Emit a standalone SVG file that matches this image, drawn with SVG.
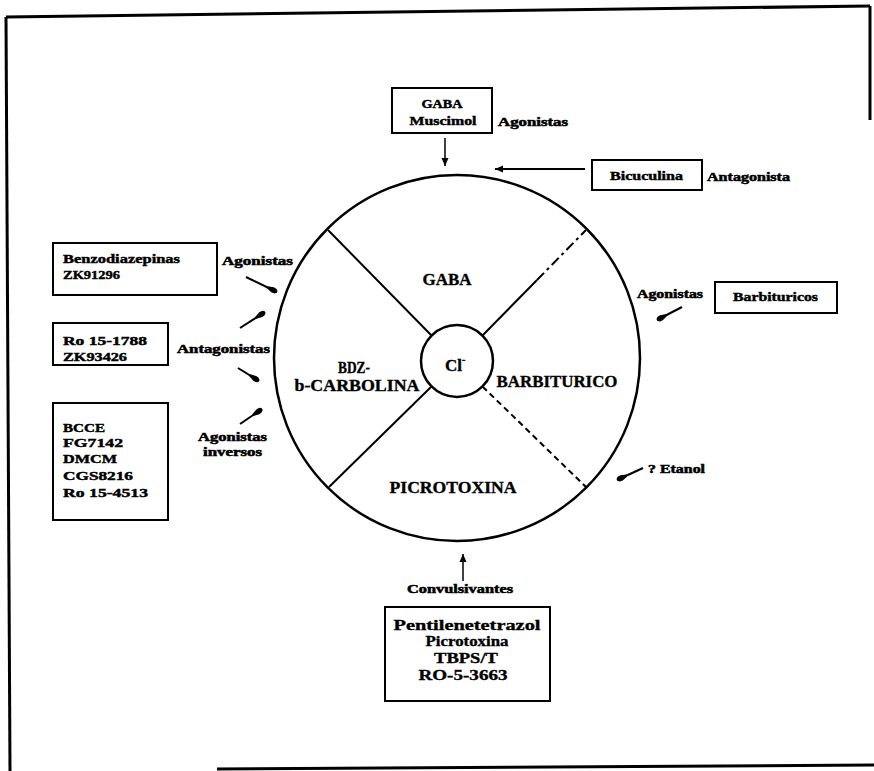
<svg xmlns="http://www.w3.org/2000/svg" width="874" height="771" viewBox="0 0 874 771">
<style>
 text { font-family: "Liberation Serif", "DejaVu Serif", serif; font-weight: bold; fill: #000; stroke: #000; stroke-width: 0.35px; }
 .lbl { font-size: 11.5px; stroke-width: 0.5px; }
 .mid { font-size: 13px; stroke-width: 0.45px; }
 .big { font-size: 17px; }
 .bot { font-size: 15px; }
 .c { text-anchor: middle; }
 .box { fill: #fff; stroke: #000; stroke-width: 2; }
 .ln { stroke: #000; fill: none; }
 .frame { stroke: #000; fill: none; stroke-width: 3; }
</style>
<defs>
 <marker id="blob" markerUnits="userSpaceOnUse" viewBox="0 -4 12 8" refX="11" refY="0" markerWidth="12" markerHeight="8" orient="auto">
  <path d="M0,-1 L6,-2.8 Q11,-3 11,0 Q11,3 6,2.8 L0,1 Z" fill="#000"/>
 </marker>
 <marker id="arr" markerUnits="userSpaceOnUse" viewBox="0 -4 8 8" refX="8" refY="0" markerWidth="8" markerHeight="8" orient="auto">
  <path d="M0,-3.5 L8,0 L0,3.5 Z" fill="#000"/>
 </marker>
</defs>
<rect width="874" height="771" fill="#fff"/>
<g id="frame">
 <path class="frame" d="M6,17 L870,6"/>
 <path class="frame" d="M6,17 L10,771" stroke-width="2.5"/>
 <path class="frame" d="M217,769 L874,765"/>
 <path class="frame" d="M870,6 L870,120" stroke-width="2"/>
</g>
<g id="receptor">
 <circle cx="457" cy="358" r="183" fill="none" stroke="#000" stroke-width="2.5"/>
 <path class="ln" stroke-width="2" d="M431.5,335.5 L328,230 M431.5,386.5 L329,487 M482.5,335.5 L537,280"/>
 <path class="ln" stroke-width="2" stroke-dasharray="10,4,3,4" d="M537,280 L586,230"/>
 <path class="ln" stroke-width="2" stroke-dasharray="6,4" d="M482.5,386.5 L586,487"/>
 <circle cx="457" cy="361" r="36" fill="#fff" stroke="#000" stroke-width="2.5"/>
 <text class="big" x="447" y="285" textLength="49" lengthAdjust="spacingAndGlyphs" text-anchor="middle">GABA</text>
 <text class="big" x="354" y="373" textLength="32" lengthAdjust="spacingAndGlyphs" text-anchor="middle">BDZ-</text>
 <text class="big" x="357" y="391" textLength="125" lengthAdjust="spacingAndGlyphs" text-anchor="middle">b-CARBOLINA</text>
 <text class="big" x="557" y="387" textLength="121" lengthAdjust="spacingAndGlyphs" text-anchor="middle">BARBITURICO</text>
 <text class="big" x="453" y="493" textLength="127" lengthAdjust="spacingAndGlyphs" text-anchor="middle">PICROTOXINA</text>
 <text class="big" x="445" y="371">Cl<tspan font-size="10" dy="-8">-</tspan></text>
</g>
<g id="gaba-box">
 <rect class="box" x="392" y="88" width="100" height="45"/>
 <text class="mid c" x="442" y="108" textLength="41" lengthAdjust="spacingAndGlyphs">GABA</text>
 <text class="mid c" x="443" y="125" textLength="67" lengthAdjust="spacingAndGlyphs">Muscimol</text>
 <text class="lbl" x="498" y="126" textLength="70" lengthAdjust="spacingAndGlyphs">Agonistas</text>
</g>
<g id="bicuculina-box">
 <rect class="box" x="592" y="160" width="110" height="30"/>
 <text class="mid" x="610" y="180" textLength="73" lengthAdjust="spacingAndGlyphs">Bicuculina</text>
 <text class="lbl" x="707" y="181" textLength="83" lengthAdjust="spacingAndGlyphs">Antagonista</text>
</g>
<g id="benzo-box">
 <rect class="box" x="53" y="243" width="164" height="52"/>
 <text class="mid" x="63" y="263" textLength="117" lengthAdjust="spacingAndGlyphs">Benzodiazepinas</text>
 <text class="mid" x="63" y="279" textLength="57" lengthAdjust="spacingAndGlyphs">ZK91296</text>
 <text class="lbl" x="222" y="265" textLength="71" lengthAdjust="spacingAndGlyphs">Agonistas</text>
</g>
<g id="ro-box">
 <rect class="box" x="53" y="323" width="115" height="42"/>
 <text class="mid" x="63" y="345" textLength="84" lengthAdjust="spacingAndGlyphs">Ro 15-1788</text>
 <text class="mid" x="63" y="361" textLength="64" lengthAdjust="spacingAndGlyphs">ZK93426</text>
 <text class="lbl" x="177" y="353" textLength="93" lengthAdjust="spacingAndGlyphs">Antagonistas</text>
</g>
<g id="inverse-box">
 <rect class="box" x="53" y="403" width="115" height="117"/>
 <text class="mid" x="63" y="432" textLength="42" lengthAdjust="spacingAndGlyphs">BCCE</text>
 <text class="mid" x="63" y="447" textLength="60" lengthAdjust="spacingAndGlyphs">FG7142</text>
 <text class="mid" x="63" y="463" textLength="54" lengthAdjust="spacingAndGlyphs">DMCM</text>
 <text class="mid" x="63" y="480" textLength="70" lengthAdjust="spacingAndGlyphs">CGS8216</text>
 <text class="mid" x="63" y="497" textLength="85" lengthAdjust="spacingAndGlyphs">Ro 15-4513</text>
 <text class="lbl" x="198" y="441" textLength="69" lengthAdjust="spacingAndGlyphs">Agonistas</text>
 <text class="lbl" x="203" y="456" textLength="59" lengthAdjust="spacingAndGlyphs">inversos</text>
</g>
<g id="barbituricos-box">
 <rect class="box" x="715" y="282" width="122" height="31"/>
 <text class="mid" x="733" y="301" textLength="85" lengthAdjust="spacingAndGlyphs">Barbituricos</text>
 <text class="lbl" x="637" y="298" textLength="66" lengthAdjust="spacingAndGlyphs">Agonistas</text>
</g>
<g id="etanol">
 <text class="lbl" x="648" y="473" textLength="57" lengthAdjust="spacingAndGlyphs">? Etanol</text>
</g>
<g id="convulsivantes-box">
 <rect class="box" x="385" y="607" width="165" height="94"/>
 <text class="lbl c" x="460" y="593" textLength="106" lengthAdjust="spacingAndGlyphs">Convulsivantes</text>
 <text class="bot c" x="467" y="630" textLength="147" lengthAdjust="spacingAndGlyphs">Pentilenetetrazol</text>
 <text class="bot c" x="467" y="646" textLength="83" lengthAdjust="spacingAndGlyphs">Picrotoxina</text>
 <text class="bot c" x="466" y="663" textLength="64" lengthAdjust="spacingAndGlyphs">TBPS/T</text>
 <text class="bot c" x="463" y="680" textLength="89" lengthAdjust="spacingAndGlyphs">RO-5-3663</text>
</g>
<g id="connectors" class="ln">
 <path stroke-width="1.5" marker-end="url(#arr)" d="M445,138 L445,166"/>
 <path stroke-width="1.8" marker-end="url(#arr)" d="M585,169 L495,169"/>
 <path stroke-width="1.5" marker-end="url(#arr)" d="M463,581 L463,554"/>
 <path stroke-width="2" marker-end="url(#blob)" d="M246,277 L277,292"/>
 <path stroke-width="2" marker-end="url(#blob)" d="M240,328 L265,312"/>
 <path stroke-width="2" marker-end="url(#blob)" d="M238,368 L259,381"/>
 <path stroke-width="2" marker-end="url(#blob)" d="M240,424 L262,409"/>
 <path stroke-width="2" marker-end="url(#blob)" d="M682,307 L657,320"/>
 <path stroke-width="2" marker-end="url(#blob)" d="M643,468 L617,480"/>
</g>
</svg>
